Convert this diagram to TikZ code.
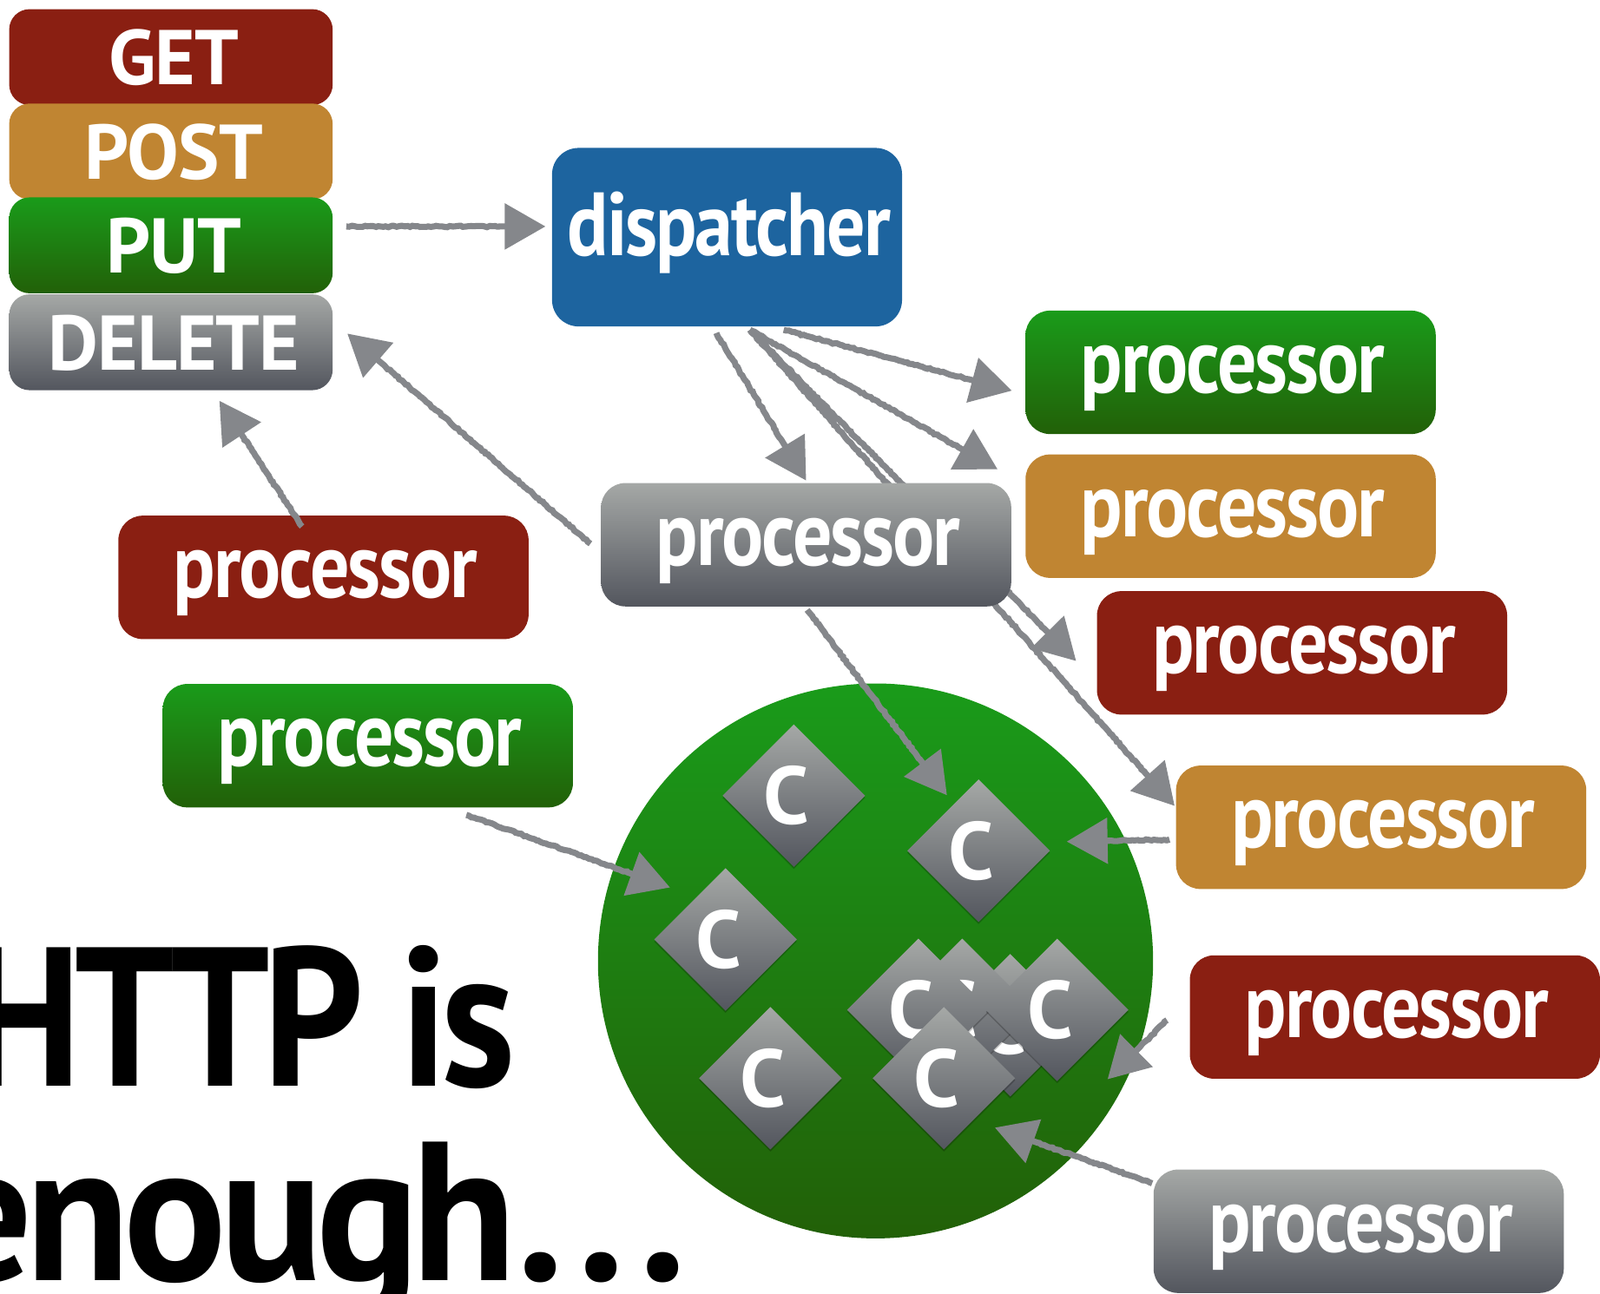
\documentclass[tikz,border=0pt]{standalone}
\usepackage{fontspec}
\setmainfont{PT Sans}[LetterSpace=-1]
\newfontfamily\tightfont{PT Sans}[FakeStretch=.85,LetterSpace=-2]
\newfontfamily\bigfont{PT Sans}[FakeStretch=.885,LetterSpace=-3.5]
\newfontfamily\widefont{PT Sans}[FakeStretch=.97,LetterSpace=-3.5]
\usetikzlibrary{arrows.meta,decorations.pathmorphing,shadows,shapes.geometric}
\definecolor{redflat}{HTML}{8A1F12}
\definecolor{orangeflat}{HTML}{C08532}
\definecolor{blueflat}{HTML}{1D649F}
\definecolor{greentop}{HTML}{1A9B1A}
\definecolor{greenbot}{HTML}{226008}
\definecolor{graytop}{HTML}{A5A8A6}
\definecolor{graybot}{HTML}{53565E}
\definecolor{chalk}{HTML}{85878B}
\tikzset{
  redfill/.style={fill=redflat},
  orangefill/.style={fill=orangeflat},
  greenfill/.style={top color=greentop,bottom color=greenbot},
  grayfill/.style={top color=graytop,bottom color=graybot},
  method/.style={rectangle,rounded corners=10pt,minimum width=158.5pt,minimum height=47pt,inner sep=0pt,text=white,font=\fontsize{38}{38}\bfseries,text depth=0pt,execute at begin node={\kern3pt}},
  processor/.style={rectangle,rounded corners=12pt,minimum width=201pt,minimum height=60.5pt,inner sep=0pt,text=white,font=\tightfont\fontsize{45}{45}\bfseries,text height=28pt,text depth=8pt,execute at begin node={\kern2pt}},
  cnode/.style={diamond,aspect=1,minimum width=70pt,minimum height=70pt,inner sep=0pt,grayfill,text=white,font=\fontsize{40}{40}\bfseries,drop shadow={shadow xshift=0pt,shadow yshift=-1pt,opacity=.22,fill=black}},
  sketch/.style={draw=chalk,line width=3pt,decorate,decoration={random steps,segment length=1.3pt,amplitude=.35pt,post length=22pt},-{Triangle[length=20pt,width=22pt]}},
  title/.style={anchor=base west,inner sep=0pt,font=\fontsize{97}{97}\bfseries},
}
\begin{document}
\begin{tikzpicture}[x=0.5pt,y=-0.5pt]
  \useasboundingbox (0,0) rectangle (1568,1268);
  \node[method,redfill] (get) at (167.5,56) {GET};
  \node[method,orangefill] (post) at (167.5,148.5) {POST};
  \node[method,greenfill] (put) at (167.5,240.5) {PUT};
  \node[method,grayfill] (delete) at (167.5,335.5) {DELETE};
  \node[processor,minimum width=171.5pt,minimum height=87.5pt,rounded corners=13pt,fill=blueflat,font=\tightfont\fontsize{44}{44}\bfseries,text depth=10pt] (dispatcher) at (712.5,232.5) {dispatcher};
  \node[processor,greenfill] (p1) at (1206,365) {processor};
  \node[processor,orangefill] (p2) at (1206,506) {processor};
  \node[processor,redfill] (p3) at (1276,640) {processor};
  \node[processor,orangefill] (p4) at (1353.5,811) {processor};
  \node[processor,redfill] (p5) at (1367,997) {processor};
  \node[processor,grayfill] (p6) at (1331.5,1207) {processor};
  \node[processor,redfill] (p8) at (317,566) {processor};
  \node[processor,greenfill] (p9) at (360.5,731) {processor};
  \draw[sketch] ([shift={(22.5,3)}]dispatcher.south) -- ([shift={(-20,8)}]p3.west);
  \draw[sketch] ([shift={(22.5,3)}]dispatcher.south) -- ([shift={(-1,-21)}]p4.west);
  \node[processor,grayfill] (p7) at (790,534) {processor};
  \node[circle,minimum size=272pt,inner sep=0pt,greenfill] (cloud) at (858,942) {};
  \foreach \name/\x/\y in {c1/778/780,c2/959/834,c3/711/921,c4/755/1057,c5/990/1005,c6/943/990,c7/900/990,c8/1036/990,c9/925/1057}
    \node[cnode] (\name) at (\x,\y) {C\kern7pt};
  \draw[sketch] ([shift={(13,-18.5)}]put.east) -- ([shift={(-6,-10.5)}]dispatcher.west);
  \draw[sketch] ([shift={(-10,-1)}]p7.west) -- ([shift={(14,-8.5)}]delete.east);
  \draw[sketch] ([shift={(-21,11)}]p8.north) -- ([shift={(47.5,10)}]delete.south);
  \draw[sketch] ([shift={(55.5,3)}]dispatcher.south) -- ([shift={(-13,18)}]p1.west);
  \draw[sketch] ([shift={(22.5,3)}]dispatcher.south) -- ([shift={(-27,-46)}]p2.west);
  \draw[sketch] ([shift={(-10.5,6)}]dispatcher.south) -- ([shift={(0,-2)}]p7.north);
  \draw[sketch] ([shift={(1,3)}]p7.south) -- ([shift={(-31,16)}]c2.north);
  \draw[sketch] ([shift={(-6,12)}]p4.west) -- ([shift={(16,-9)}]c2.east);
  \draw[sketch] ([shift={(-22,3)}]p5.west) -- ([shift={(-21,68)}]c8.east);
  \draw[sketch] ([shift={(-1,-47)}]p6.west) -- ([shift={(50,-22)}]c9.south);
  \draw[sketch] ([shift={(96.5,7)}]p9.south) -- ([shift={(16,-51)}]c3.west);
  \node[title] (http) at (-32,1065) {\bigfont\bfseries HTTP is};
  \node[title] (enough) at (-64,1255) {\widefont\bfseries enough{\addfontfeature{LetterSpace=6}...}};
\end{tikzpicture}
\end{document}
